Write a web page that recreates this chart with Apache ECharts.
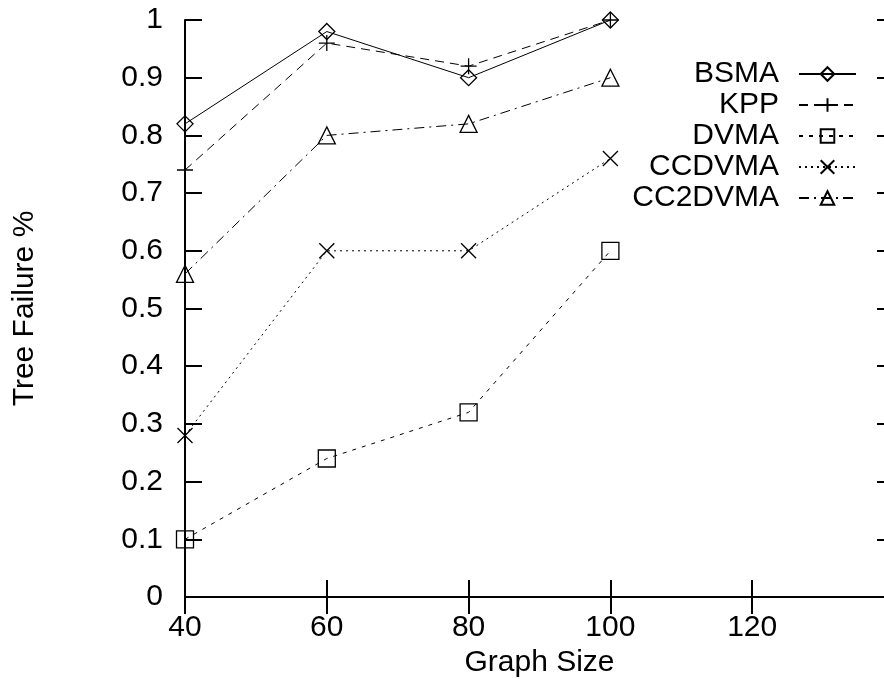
<!DOCTYPE html>
<html>
<head>
<meta charset="utf-8">
<script src="https://cdn.jsdelivr.net/npm/echarts@6/dist/echarts.min.js"></script>
<style>
html,body{margin:0;padding:0;background:#fff;}
#chart{width:884px;height:679px;}
</style>
</head>
<body>
<div id="chart"></div>
<script>
const graphSizes = [40, 60, 80, 100];
const bsma    = [0.82, 0.98, 0.90, 1.00];
const kpp     = [0.74, 0.96, 0.92, 1.00];
const dvma    = [0.10, 0.24, 0.32, 0.60];
const ccdvma  = [0.28, 0.60, 0.60, 0.76];
const cc2dvma = [0.56, 0.80, 0.82, 0.90];
const seriesNames = ['BSMA', 'KPP', 'DVMA', 'CCDVMA', 'CC2DVMA'];
const xTicks = [40, 60, 80, 100, 120];

const font = '"Liberation Sans", Arial, sans-serif';
const fs = 30;
const pair = arr => graphSizes.map((x, i) => [x, arr[i]]);

function mk(name, data, symbol, size, dash) {
  return {
    name: name,
    type: 'line',
    data: pair(data),
    symbol: symbol,
    symbolSize: size,
    showSymbol: true,
    animation: false,
    lineStyle: { color: '#000', width: 1, type: dash },
    itemStyle: { color: 'rgba(0,0,0,0)', borderColor: '#000', borderWidth: 1.3 },
    emphasis: { disabled: true }
  };
}

const axisLineStyle = { show: true, lineStyle: { color: '#000', width: 2 } };
const tickStyle = { show: true, inside: true, length: 17, lineStyle: { color: '#000', width: 2 } };

const chart = echarts.init(document.getElementById('chart'), null, { renderer: 'canvas' });
chart.setOption({
  backgroundColor: '#fff',
  animation: false,
  grid: { left: 185, top: 20, width: 709, bottom: 82, containLabel: false, outerBoundsMode: 'none' },
  legend: {
    orient: 'vertical',
    right: 27,
    top: 59,
    padding: 0,
    align: 'right',
    itemWidth: 57,
    itemHeight: 17,
    itemGap: 1,
    selectedMode: false,
    data: seriesNames,
    textStyle: { fontFamily: font, fontSize: fs, lineHeight: 30, color: '#000', width: 200, align: 'right', padding: [0, 15, 0, 0] }
  },
  xAxis: [{
    type: 'value', min: 40, max: 140, interval: 20, position: 'bottom',
    name: 'Graph Size', nameLocation: 'middle', nameGap: 48,
    nameTextStyle: { fontFamily: font, fontSize: fs, color: '#000' },
    axisLine: axisLineStyle, axisTick: tickStyle, splitLine: { show: false },
    axisLabel: { fontFamily: font, fontSize: fs, color: '#000', margin: 16,
      formatter: v => xTicks.indexOf(v) >= 0 ? String(v) : '' }
  }, {
    type: 'value', min: 40, max: 140, interval: 20, position: 'top',
    axisLine: axisLineStyle, axisTick: tickStyle, splitLine: { show: false },
    axisLabel: { show: false }
  }],
  yAxis: [{
    type: 'value', min: 0, max: 1, interval: 0.1, position: 'left',
    name: 'Tree Failure %', nameLocation: 'middle', nameGap: 145, nameRotate: 90,
    nameTextStyle: { fontFamily: font, fontSize: fs, color: '#000' },
    axisLine: axisLineStyle, axisTick: tickStyle, splitLine: { show: false },
    axisLabel: { fontFamily: font, fontSize: fs, color: '#000', margin: 22,
      formatter: v => String(Math.round(v * 10) / 10) }
  }, {
    type: 'value', min: 0, max: 1, interval: 0.1, position: 'right',
    axisLine: axisLineStyle, axisTick: tickStyle, splitLine: { show: false },
    axisLabel: { show: false }
  }],
  series: [
    mk('BSMA', bsma, 'diamond', 16, 'solid'),
    mk('KPP', kpp, 'path://M5,0L5,10M0,5L10,5', 16, [9, 6]),
    mk('DVMA', dvma, 'rect', 17, [4, 6]),
    mk('CCDVMA', ccdvma, 'path://M0,0L10,10M0,10L10,0', 15, [2, 4]),
    mk('CC2DVMA', cc2dvma, 'triangle', 17, [10, 5, 2, 5])
  ]
});
</script>
</body>
</html>
